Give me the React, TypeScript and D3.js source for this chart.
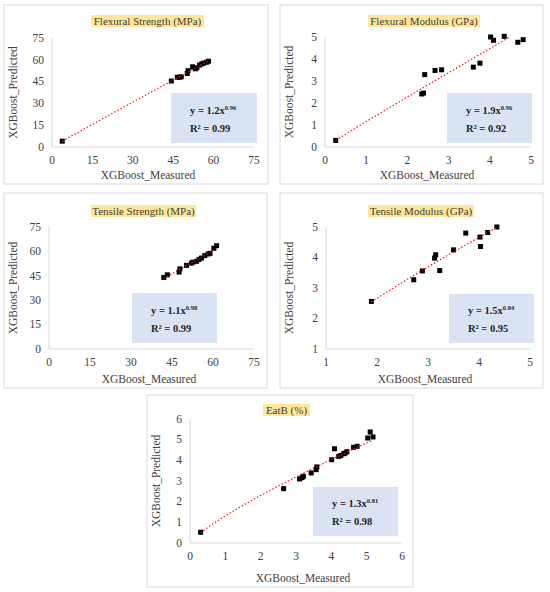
import * as d3 from "d3";
import React from "react";

// Flexural Strength (MPa)
const fsMeasured = [3.8, 44.3, 46.5, 47.3, 48.0, 50.2, 50.5, 52.2, 53.2, 53.8, 54.8, 55.6, 56.3, 57.4, 58.1];
const fsPredicted = [4.0, 45.4, 48.0, 48.0, 48.3, 50.6, 52.5, 55.2, 53.8, 54.5, 56.4, 57.2, 57.7, 58.3, 59.0];

// Flexural Modulus (GPa)
const fmMeasured = [0.26, 2.35, 2.39, 2.42, 2.67, 2.83, 3.6, 3.76, 4.02, 4.09, 4.35, 4.68, 4.81];
const fmPredicted = [0.3, 2.41, 2.45, 3.29, 3.48, 3.51, 3.63, 3.81, 5.0, 4.85, 5.03, 4.76, 4.88];

// Tensile Strength (MPa)
const tsMeasured = [42.0, 43.3, 47.6, 47.9, 50.3, 52.1, 52.7, 54.0, 54.9, 55.8, 57.0, 58.2, 58.9, 60.3, 61.3];
const tsPredicted = [44.0, 45.6, 47.3, 49.3, 51.4, 52.8, 53.4, 53.9, 55.1, 55.9, 57.4, 58.4, 58.8, 61.9, 63.5];

// Tensile Modulus (GPa)
const tmMeasured = [1.89, 2.72, 2.89, 3.13, 3.15, 3.23, 3.5, 3.74, 4.02, 4.03, 4.17, 4.35];
const tmPredicted = [2.56, 3.27, 3.56, 3.98, 4.09, 3.57, 4.25, 4.8, 4.67, 4.36, 4.82, 5.0];

// EatB (%)
const ebMeasured = [0.3, 2.65, 3.1, 3.17, 3.21, 3.43, 3.57, 3.59, 4.01, 4.09, 4.21, 4.27, 4.35, 4.39, 4.44, 4.63, 4.73, 5.03, 5.1, 5.18];
const ebPredicted = [0.52, 2.63, 3.1, 3.16, 3.23, 3.39, 3.55, 3.68, 4.03, 4.56, 4.19, 4.24, 4.32, 4.35, 4.42, 4.63, 4.68, 5.08, 5.37, 5.13];

const strengthTicks = [0, 15, 30, 45, 60, 75];
const fmTicks = [0, 1, 2, 3, 4, 5];
const tmTicks = [1, 2, 3, 4, 5];
const ebTicks = [0, 1, 2, 3, 4, 5, 6];

const titles = ["Flexural Strength (MPa)", "Flexural Modulus (GPa)", "Tensile Strength (MPa)", "Tensile Modulus (GPa)", "EatB (%)"];
const coefs = ["1.2", "1.9", "1.1", "1.5", "1.3"];
const exps = ["0.96", "0.96", "0.98", "0.84", "0.81"];
const r2s = ["0.99", "0.92", "0.99", "0.95", "0.98"];

const FONT = "'Liberation Serif', 'Times New Roman', serif";

const panels = [
  { xs: fsMeasured, ys: fsPredicted, ticks: strengthTicks, frame: [4, 5, 264, 179], plot: [52, 38, 254, 147], box: [171, 93, 86, 50], tbox: [91, 15, 113, 12], xlab: 148 },
  { xs: fmMeasured, ys: fmPredicted, ticks: fmTicks, frame: [280, 5, 263, 179], plot: [325, 37, 531, 147], box: [447, 93, 85, 50], tbox: [368, 15, 112, 12], xlab: 427 },
  { xs: tsMeasured, ys: tsPredicted, ticks: strengthTicks, frame: [4, 193, 263, 195], plot: [49, 227, 254, 349], box: [132, 293, 85, 50], tbox: [91, 205, 105, 12], xlab: 149 },
  { xs: tmMeasured, ys: tmPredicted, ticks: tmTicks, frame: [280, 193, 263, 195], plot: [326, 227, 530, 349], box: [449, 294, 85, 49], tbox: [368, 205, 106, 12], xlab: 425 },
  { xs: ebMeasured, ys: ebPredicted, ticks: ebTicks, frame: [147, 395, 266, 192], plot: [190, 419, 402, 543], box: [313, 487, 85, 49], tbox: [263, 404, 47, 12], xlab: 303 },
];

const Panel = ({ p, i }) => {
  const [fx, fy, fw, fh] = p.frame;
  const [x0, y0, x1, y1] = p.plot;
  const dom = d3.extent(p.ticks);
  const x = d3.scaleLinear().domain(dom).range([x0, x1]);
  const y = d3.scaleLinear().domain(dom).range([y1, y0]);

  // power trendline (least squares in log space, like Excel)
  const lx = p.xs.map(Math.log);
  const ly = p.ys.map(Math.log);
  const mx = d3.mean(lx);
  const my = d3.mean(ly);
  const b = d3.sum(lx, (v, k) => (v - mx) * (ly[k] - my)) / d3.sum(lx, (v) => (v - mx) ** 2);
  const a = Math.exp(my - b * mx);
  const [xmin, xmax] = d3.extent(p.xs);
  const pts = d3.range(0, 41).map((k) => xmin + ((xmax - xmin) * k) / 40);
  const line = d3
    .line()
    .x((d) => x(d))
    .y((d) => y(a * Math.pow(d, b)));

  const [bx, by, bw, bh] = p.box;
  const [tx, ty, tw, th] = p.tbox;
  const clipId = `clip${i}`;

  return (
    <g fontFamily={FONT}>
      <rect x={fx} y={fy} width={fw} height={fh} fill="#fff" stroke="#d9d9d9" strokeWidth={1} />
      <rect x={tx} y={ty} width={tw} height={th} fill="#ffe699" />
      <text x={tx + tw / 2} y={ty + th - 2.5} textAnchor="middle" fontSize={11} fontWeight="normal" fill="#404040">
        {titles[i]}
      </text>
      <defs>
        <clipPath id={clipId}>
          <rect x={x0} y={y0} width={x1 - x0} height={y1 - y0} />
        </clipPath>
      </defs>
      <line x1={x0} x2={x0} y1={y0} y2={y1} stroke="#d9d9d9" />
      <line x1={x0} x2={x1} y1={y1} y2={y1} stroke="#d9d9d9" />
      {p.ticks.map((t) => (
        <text key={`y${t}`} x={x0 - 8} y={y(t) + 3.8} textAnchor="end" fontSize={11.5} fill="#404040">
          {t}
        </text>
      ))}
      {p.ticks.map((t) => (
        <text key={`x${t}`} x={x(t)} y={y1 + 17} textAnchor="middle" fontSize={11.5} fill="#404040">
          {t}
        </text>
      ))}
      <text
        transform={`translate(${fx + 10},${(y0 + y1) / 2}) rotate(-90)`}
        textAnchor="middle"
        dominantBaseline="middle"
        fontSize={11.5}
        fill="#404040"
      >
        XGBoost_Predicted
      </text>
      <text x={p.xlab} y={fy + fh - 5} textAnchor="middle" fontSize={11.5} fill="#404040">
        XGBoost_Measured
      </text>
      <rect x={bx} y={by} width={bw} height={bh} fill="#dae3f3" />
      <text x={bx + 19} y={by + bh * 0.41} fontSize={10.5} fontWeight="bold" fill="#262626">
        {`y = ${coefs[i]}x`}
        <tspan fontSize={6.5} dy={-4}>
          {exps[i]}
        </tspan>
      </text>
      <text x={bx + 19} y={by + bh * 0.77} fontSize={10.5} fontWeight="bold" fill="#262626">
        {`R² = ${r2s[i]}`}
      </text>
      {p.xs.map((v, k) => (
        <rect key={k} x={x(v) - 2.5} y={y(p.ys[k]) - 2.5} width={5} height={5} fill="#000" />
      ))}
      <path
        d={line(pts)}
        clipPath={`url(#${clipId})`}
        fill="none"
        stroke="#e8191c"
        strokeWidth={1.2}
        strokeDasharray="1.5,2"
      />
    </g>
  );
}

export default function App() {
  return (
    <svg width={550} height={592} style={{ position: "absolute", left: 0, top: 0, background: "#fff" }}>
      <rect width={550} height={592} fill="#fff" />
      {panels.map((p, i) => (
        <Panel key={i} p={p} i={i} />
      ))}
    </svg>
  );
}
